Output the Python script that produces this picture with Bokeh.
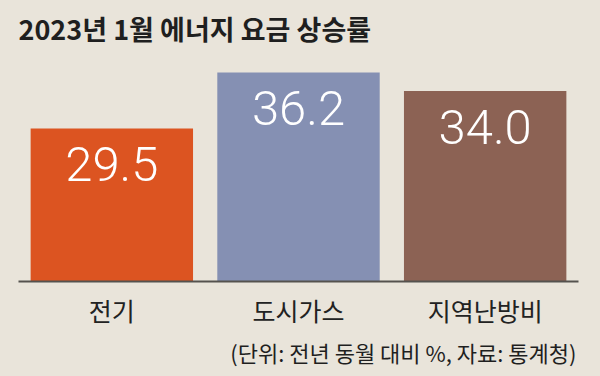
from bokeh.plotting import figure
from bokeh.models import ColumnDataSource, Title, FactorRange
from bokeh.core.properties import value
from bokeh.embed import file_html
from bokeh.resources import INLINE

categories = ["전기", "도시가스", "지역난방비"]
rates = [29.5, 36.2, 34.0]
labels = ["29.5", "36.2", "34.0"]
colors = ["#dc5421", "#8590b3", "#8c6254"]
title_text = "2023년 1월 에너지 요금 상승률"
note_text = "(단위: 전년 동월 대비 %, 자료: 통계청)"

BG = "#e9e4da"
KR = "Noto Sans CJK KR"

src = ColumnDataSource(dict(cat=categories, v=rates, lab=labels, col=colors))

p = figure(x_range=FactorRange(*categories, range_padding=0), y_range=(11.2, 38.59),
           width=600, height=376, output_backend="svg", toolbar_location=None,
           min_border_left=18, min_border_right=22, min_border_top=52, min_border_bottom=95)
p.frame_width = 560
p.frame_height = 229
p.background_fill_color = None
p.border_fill_color = None
p.styles = {"background-color": BG}
p.outline_line_color = None
p.grid.visible = False
p.yaxis.visible = False

p.vbar(x="cat", top="v", bottom=0, width=0.87, fill_color="col", line_color=None, source=src)
p.text(x="cat", y="v", text="lab", source=src, text_color="white",
       text_font=value("Roboto Light, Roboto"), text_font_size="49px",
       text_align="center", text_baseline="middle", y_offset=36)

xa = p.xaxis[0]
xa.axis_line_color = "#55524e"
xa.axis_line_width = 2
xa.major_tick_line_color = None
xa.major_tick_out = 0
xa.major_tick_in = 0
xa.minor_tick_line_color = None
xa.major_label_text_font = KR
xa.major_label_text_font_size = "25px"
xa.major_label_text_color = "#222222"
xa.major_label_standoff = 10

p.add_layout(Title(text=title_text, text_font=KR, text_font_size="27px",
                   text_font_style="bold", text_color="#1f1f1f", align="left",
                   vertical_align="middle", offset=0, standoff=8), "above")
p.add_layout(Title(text=note_text, text_font=KR, text_font_size="22px",
                   text_font_style="normal", text_color="#1f1f1f", align="right",
                   offset=2, standoff=7), "below")

open("out.html", "w").write(file_html(p, INLINE))
